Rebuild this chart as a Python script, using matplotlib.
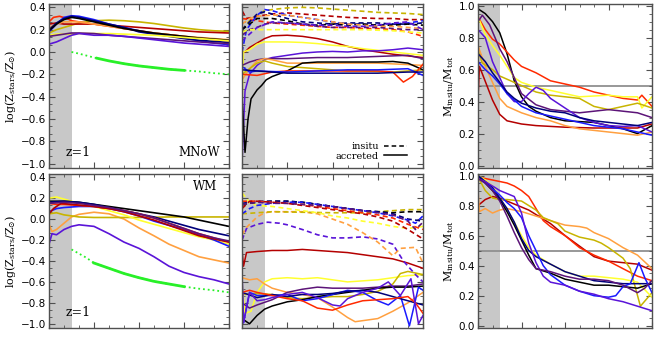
import numpy as np
import matplotlib
matplotlib.use('Agg')
import matplotlib.pyplot as plt
from matplotlib.ticker import MultipleLocator, FuncFormatter
from matplotlib.lines import Line2D

# colours of the simulated galaxies
col = {'black': '#000000', 'navy': '#00007a', 'blue': '#1a1aff', 'bviolet': '#5a14d8',
       'purple': '#5c1478', 'dred': '#b40000', 'red': '#ff2a00', 'orange': '#ffa040',
       'yellow': '#ffff30', 'olive': '#c8b400'}
green = '#28f028'

# ---- top left: log(Z_stars/Z_sun), MNoW ----
tl = {
    'olive': [(0, .17), (.5, .2), (1, .22), (1.5, .24), (2, .26), (3, .28), (4, .285), (5, .28), (6, .27), (7, .255), (8, .235), (9, .215), (10, .2), (11, .19), (12, .185)],
    'dred': [(0, .25), (.5, .26), (1, .25), (1.5, .25), (2, .25), (3, .25), (4, .24), (5, .23), (6, .22), (7, .21), (8, .2), (9, .19), (10, .18), (11, .175), (12, .17)],
    'red': [(0, .27), (.3, .31), (.7, .32), (1.2, .3), (1.5, .28), (2, .27), (3, .25), (4, .23), (5, .21), (6, .19), (7, .17), (8, .155), (9, .14), (10, .125), (11, .11), (12, .1)],
    'orange': [(0, .22), (.5, .25), (1, .27), (2, .27), (3, .25), (4, .23), (5, .21), (6, .19), (7, .17), (8, .155), (9, .14), (10, .13), (11, .12), (12, .11)],
    'blue': [(0, .18), (.5, .25), (1, .31), (1.5, .325), (2, .32), (3, .29), (4, .25), (5, .22), (6, .19), (7, .165), (8, .145), (9, .125), (10, .1), (11, .08), (12, .065)],
    'navy': [(0, .2), (.5, .26), (1, .3), (1.5, .32), (2, .31), (3, .28), (4, .25), (5, .22), (6, .18), (7, .16), (8, .14), (9, .12), (10, .105), (11, .095), (12, .085)],
    'black': [(0, .19), (.5, .25), (1, .29), (1.5, .31), (2, .3), (3, .27), (4, .24), (5, .21), (6, .19), (7, .17), (8, .155), (9, .14), (10, .125), (11, .115), (12, .105)],
    'yellow': [(0, .15), (.5, .16), (1.5, .16), (2, .165), (3, .165), (4, .165), (5, .16), (6, .155), (7, .15), (8, .14), (9, .13), (10, .12), (11, .11), (12, .1)],
    'purple': [(0, .14), (.5, .15), (1.5, .17), (2, .17), (3, .165), (4, .15), (5, .14), (6, .13), (7, .12), (8, .11), (9, .1), (10, .09), (11, .08), (12, .075)],
    'bviolet': [(0, .07), (.5, .09), (1, .12), (1.5, .15), (2, .165), (3, .15), (4, .15), (5, .14), (6, .125), (7, .11), (8, .095), (9, .08), (10, .07), (11, .06), (12, .05)],
}
tl_green = [(1.5, 0.0), (2, -.015), (3, -.05), (4, -.08), (5, -.105), (6, -.125), (7, -.14), (8, -.155), (9, -.165), (10, -.175), (11, -.19), (12, -.2)]

# ---- bottom left: log(Z_stars/Z_sun), WM ----
bl = {
    'bviolet': [(0, -.24), (.2, -.14), (.5, -.15), (1, -.1), (1.5, -.07), (2, -.055), (3, -.07), (4, -.14), (5, -.22), (6, -.28), (7, -.36), (8, -.45), (9, -.51), (10, -.55), (11, -.58), (12, -.62)],
    'orange': [(0, -.05), (.2, -.12), (.5, -.1), (1, -.04), (1.5, .02), (2, .045), (3, .065), (4, .05), (5, 0), (6, -.085), (7, -.16), (8, -.24), (9, -.3), (10, -.36), (11, -.39), (12, -.42)],
    'olive': [(0, .05), (.5, .06), (1, .04), (1.5, .03), (2, .02), (3, .015), (4, .015), (6, .015), (8, .02), (10, .02), (12, .02)],
    'yellow': [(0, .2), (.5, .21), (1, .19), (1.5, .17), (2, .15), (3, .12), (4, .08), (5, .04), (6, -.01), (7, -.05), (8, -.09), (9, -.13), (10, -.17), (11, -.2), (12, -.24)],
    'black': [(0, .17), (1, .17), (2, .16), (3, .14), (4, .12), (5, .1), (6, .08), (7, .06), (8, .04), (9, .02), (10, -.01), (11, -.04), (12, -.07)],
    'navy': [(0, .16), (1, .17), (2, .16), (3, .14), (4, .11), (5, .08), (6, .05), (7, .02), (8, -.02), (9, -.06), (10, -.1), (11, -.13), (12, -.16)],
    'blue': [(0, .07), (.5, .1), (1, .11), (2, .12), (3, .12), (4, .1), (5, .07), (6, .03), (7, -.02), (8, -.06), (9, -.1), (10, -.15), (11, -.2), (12, -.26)],
    'red': [(0, .15), (.5, .14), (1, .14), (2, .13), (3, .12), (4, .1), (5, .08), (6, .05), (7, .01), (8, -.04), (9, -.09), (10, -.14), (11, -.18), (12, -.22)],
    'dred': [(0, .05), (.3, .1), (.8, .15), (1.5, .14), (3, .12), (4, .1), (5, .07), (6, .03), (7, -.01), (8, -.06), (9, -.11), (10, -.16), (11, -.19), (12, -.22)],
    'purple': [(0, .15), (1, .16), (2, .15), (3, .13), (4, .11), (5, .08), (6, .05), (7, .01), (8, -.04), (9, -.09), (10, -.14), (11, -.18), (12, -.21)],
}
bl_green = [(1.5, -.29), (2, -.33), (2.5, -.37), (3, -.42), (4, -.47), (5, -.52), (6, -.56), (7, -.595), (8, -.62), (9, -.645), (10, -.665), (11, -.68), (12, -.7)]

# ---- top middle: insitu (dashed) and accreted (solid) ----
tm_ins = {
    'olive': [(0, .2), (.5, .28), (1, .33), (1.5, .37), (2, .38), (3, .395), (4, .4), (5, .395), (6, .385), (7, .375), (8, .365), (9, .355), (10, .35), (11, .345), (12, .335)],
    'dred': [(0, .37), (.3, .3), (1, .32), (2, .34), (3, .35), (4, .34), (5, .33), (6, .32), (7, .31), (8, .305), (9, .3), (10, .3), (11, .29), (12, .29)],
    'red': [(0, .3), (1, .28), (2, .26), (3, .25), (4, .24), (5, .23), (6, .22), (7, .22), (8, .21), (9, .21), (10, .2), (11, .18), (12, .14)],
    'blue': [(0, 0), (.3, .2), (1, .33), (1.5, .38), (2, .37), (3, .33), (4, .31), (5, .29), (6, .27), (7, .25), (8, .25), (9, .24), (10, .25), (11, .26), (12, .28)],
    'navy': [(0, .2), (1, .34), (1.5, .36), (2, .34), (3, .3), (4, .27), (5, .26), (6, .25), (7, .26), (8, .26), (9, .26), (10, .25), (11, .25), (12, .26)],
    'black': [(0, .2), (1, .3), (2, .3), (3, .28), (4, .25), (5, .24), (6, .25), (7, .24), (8, .25), (9, .24), (10, .24), (11, .25), (12, .24)],
    'orange': [(0, .25), (.5, .3), (1, .32), (2, .33), (3, .33), (4, .31), (5, .29), (6, .27), (7, .25), (8, .24), (9, .23), (10, .23), (11, .22), (12, .21)],
    'purple': [(0, .15), (.5, .2), (1, .22), (1.5, .25), (2, .26), (3, .26), (4, .25), (5, .23), (6, .22), (7, .22), (8, .22), (9, .22), (10, .21), (11, .2), (12, .2)],
    'bviolet': [(0, .1), (1, .22), (2, .27), (3, .26), (4, .25), (5, .24), (6, .24), (7, .23), (8, .23), (9, .24), (10, .26), (11, .27), (12, .2)],
    'yellow': [(0, .18), (.5, .2), (1, .2), (2, .2), (4, .2), (6, .2), (8, .2), (10, .19), (12, .17)],
}
tm_acc = {
    'dred': [(0, 0), (.2, 0), (.5, .04), (1, .08), (1.5, .12), (2, .145), (3, .15), (4, .14), (5, .12), (6, .09), (7, .05), (8, .02), (9, 0), (10, -.02), (11, -.035), (12, -.05)],
    'yellow': [(0, -.5), (.1, 0), (.5, .02), (1, .07), (1.5, .09), (2, .09), (3, .09), (4, .085), (5, .075), (6, .06), (7, .05), (8, .03), (9, .015), (10, 0), (11, -.015), (12, -.03)],
    'bviolet': [(0, -1.0), (.2, -.35), (.5, -.2), (1, -.12), (1.5, -.07), (2, -.05), (3, -.03), (4, -.01), (5, 0), (6, .005), (7, 0), (8, .01), (9, .01), (10, .02), (11, .035), (12, .02)],
    'purple': [(0, -.12), (.5, -.09), (1, -.07), (1.5, -.06), (3, -.06), (5, -.05), (7, -.05), (9, -.04), (10, -.035), (11, -.03), (12, -.06)],
    'orange': [(0, -.25), (.5, -.15), (1, -.08), (1.5, -.06), (2, -.07), (3, -.1), (5, -.1), (7, -.1), (9, -.1), (10.5, -.11), (12, -.12)],
    'olive': [(0, -.2), (.5, -.15), (1, -.1), (1.5, -.08), (2, -.1), (3, -.13), (4, -.14), (5, -.15), (6, -.16), (7, -.17), (8, -.17), (9, -.175), (10, -.18), (11, -.17), (12, -.16)],
    'black': [(0, -.4), (.2, -.9), (.4, -.6), (.6, -.42), (1, -.34), (1.3, -.3), (1.6, -.25), (2, -.22), (3, -.17), (4, -.1), (5, -.09), (7, -.09), (9, -.09), (10, -.085), (11, -.1), (12, -.16)],
    'red': [(0, -.2), (1, -.21), (2, -.18), (3, -.17), (5, -.17), (7, -.17), (9, -.17), (10, -.18), (10.7, -.27), (11.3, -.22), (12, -.11)],
    'blue': [(0, -.13), (.5, -.18), (1, -.17), (3, -.18), (5, -.17), (7, -.16), (9, -.16), (11, -.15), (12, -.21)],
    'navy': [(0, -.16), (1, -.17), (3, -.19), (5, -.19), (7, -.19), (9, -.19), (11, -.18), (12, -.18)],
}

# ---- bottom middle ----
bm_ins = {
    'bviolet': [(0, -.2), (.3, -.09), (1, -.05), (1.7, -.03), (2.5, -.04), (3, -.055), (4, -.1), (5, -.15), (6, -.18), (7, -.18), (8, -.17), (9, -.19), (10, -.24), (10.7, -.4), (11.5, -.53), (12, -.6)],
    'orange': [(0, -.15), (.3, -.08), (1, .02), (1.5, .06), (2, .07), (3, .07), (4, .07), (5, .05), (6, 0), (7, -.05), (8, -.13), (9, -.22), (10, -.35), (10.5, -.28), (11.5, -.27), (12, -.42)],
    'olive': [(0, .05), (1, .06), (2, .07), (4, .065), (6, .06), (8, .06), (9, .07), (10, .08), (11, .09), (12, .09)],
    'yellow': [(0, .25), (.5, .16), (1, .13), (2, .12), (3, .1), (4, .08), (5, .06), (6, .03), (7, .01), (8, -.02), (9, -.04), (10, -.07), (11, -.09), (12, -.07)],
    'black': [(0, .14), (1, .16), (2, .17), (3, .17), (4, .16), (5, .14), (6, .12), (7, .1), (8, .08), (9, .07), (10, .06), (11, .07), (12, .07)],
    'navy': [(0, .15), (1, .17), (2, .17), (3, .17), (4, .16), (5, .14), (6, .12), (7, .1), (8, .08), (9, .07), (10, .05), (11, 0), (12, -.02)],
    'blue': [(0, .05), (.5, .1), (1, .13), (2, .15), (3, .16), (4, .16), (5, .14), (6, .12), (7, .1), (8, .08), (9, .06), (10, .03), (11, -.01), (11.5, -.04), (12, .03)],
    'red': [(0, .17), (1, .17), (2, .16), (3, .15), (4, .14), (5, .12), (6, .1), (7, .08), (8, .06), (9, .04), (10, .01), (11, -.05), (12, -.1)],
    'dred': [(0, .1), (.5, .17), (1, .17), (2, .16), (3, .15), (4, .13), (5, .11), (6, .09), (7, .07), (8, .05), (9, .02), (10, -.02), (11, -.1), (12, -.19)],
    'purple': [(0, .14), (1, .16), (2, .15), (3, .15), (4, .14), (5, .13), (6, .12), (7, .1), (8, .08), (9, .06), (10, .04), (11, -.02), (11.5, -.1), (12, -.03)],
}
bm_acc = {
    'dred': [(0, -.3), (.1, -.45), (.3, -.32), (1, -.31), (2, -.3), (3, -.3), (4, -.29), (5, -.3), (6, -.31), (7, -.32), (8, -.34), (9, -.36), (10, -.38), (11, -.42), (12, -.47)],
    'yellow': [(0, -.6), (.2, -.9), (.6, -.88), (1, -.7), (1.5, -.6), (2, -.57), (3, -.56), (4, -.57), (5, -.56), (6, -.58), (7, -.6), (8, -.59), (9, -.58), (10, -.56), (11, -.54), (12, -.53)],
    'olive': [(0, -.72), (1, -.71), (2, -.72), (3, -.75), (4, -.76), (5, -.75), (6, -.74), (7, -.74), (8, -.72), (9, -.69), (10, -.62), (10.5, -.52), (11, -.5), (12, -.53)],
    'orange': [(0, -.56), (.5, -.58), (1, -.57), (1.5, -.62), (2, -.66), (3, -.7), (4, -.72), (5, -.75), (6, -.84), (7, -.94), (7.5, -.98), (8, -.97), (9, -.95), (10, -.88), (11, -.8), (12, -.7)],
    'purple': [(0, -.8), (.5, -.85), (1, -.82), (2, -.77), (3, -.7), (4, -.67), (5, -.65), (6, -.66), (7, -.66), (8, -.66), (9, -.65), (10, -.64), (11, -.64), (12, -.62)],
    'black': [(0, -.95), (.5, -1.0), (1, -.92), (1.5, -.86), (2, -.83), (3, -.79), (4, -.77), (5, -.74), (6, -.72), (7, -.7), (8, -.68), (9, -.66), (10, -.65), (11, -.65), (12, -.64)],
    'blue': [(0, -.54), (.1, -.99), (.5, -.7), (1, -.73), (2, -.73), (3, -.72), (4, -.78), (5, -.76), (6, -.72), (7, -.68), (8, -.7), (9, -.78), (9.7, -.82), (10.5, -.73), (11.1, -1.02), (11.7, -.65), (12, -.68)],
    'navy': [(0, -.7), (1, -.75), (2, -.72), (3, -.74), (4, -.72), (5, -.72), (6, -.71), (7, -.69), (8, -.68), (9, -.7), (10, -.74), (11, -.78), (12, -.82)],
    'red': [(0, -.7), (.5, -.68), (1, -.7), (2, -.73), (3, -.76), (4, -.78), (5, -.85), (6, -.87), (7, -.82), (8, -.78), (9, -.77), (10, -.76), (11, -.74), (11.5, -.8), (12, -.9)],
    'bviolet': [(0, -.5), (.1, -.99), (.5, -.7), (1, -.78), (1.5, -.77), (2, -.75), (3, -.72), (4, -.7), (5, -.75), (6, -.82), (6.5, -.83), (7, -.76), (8, -.7), (9, -.66), (9.7, -.6), (10.5, -.73), (11.2, -.57), (11.7, -1.0), (12, -.92)],
}

# ---- right: M_insitu/M_tot ----
tr = {
    'black': [(0, .98), (.5, .95), (1, .9), (1.5, .83), (2, .7), (2.5, .53), (3, .43), (3.5, .37), (4, .34), (5, .3), (6, .28), (7, .275), (8, .27), (9, .25), (10, .23), (11, .2), (12, .25)],
    'red': [(0, .93), (.5, .85), (1, .79), (1.5, .76), (2, .71), (2.5, .66), (3, .62), (4, .58), (5, .53), (6, .51), (7, .49), (8, .46), (9, .44), (10, .42), (11, .41), (11.3, .44), (12, .37)],
    'dred': [(0, .42), (.1, .62), (.4, .55), (1, .41), (1.5, .32), (2, .28), (3, .26), (4, .25), (5, .245), (6, .24), (8, .235), (10, .235), (11, .235), (12, .26)],
    'orange': [(0, .75), (.5, .62), (1, .52), (1.5, .42), (2, .37), (3, .33), (4, .3), (5, .28), (6, .25), (7, .23), (8, .22), (9, .21), (10, .2), (11, .19), (12, .21)],
    'yellow': [(0, .93), (.5, .82), (1, .75), (1.5, .69), (2, .62), (2.5, .55), (3, .52), (4, .49), (5, .47), (6, .45), (7, .43), (8, .435), (9, .44), (10, .43), (11, .43), (11.3, .36), (12, .43)],
    'olive': [(0, .72), (.3, .64), (1, .6), (1.5, .56), (2, .54), (3, .5), (4, .46), (5, .44), (6, .43), (7, .42), (8, .37), (9, .35), (10, .37), (11, .39), (12, .36)],
    'purple': [(0, .9), (.3, .94), (.8, .88), (1.5, .73), (2, .65), (2.5, .55), (3, .45), (4, .38), (5, .35), (6, .34), (7, .33), (8, .34), (9, .35), (10, .34), (11, .33), (12, .3)],
    'bviolet': [(0, .85), (.5, .8), (1, .65), (1.5, .55), (2, .45), (2.5, .4), (3, .4), (3.5, .45), (4, .49), (4.5, .47), (5, .42), (6, .36), (7, .3), (8, .27), (9, .25), (10, .245), (11, .25), (12, .21)],
    'blue': [(0, .65), (.5, .6), (1, .56), (1.5, .51), (2, .45), (2.5, .41), (3, .37), (4, .33), (5, .31), (6, .29), (7, .27), (8, .25), (9, .24), (10, .23), (11, .21), (12, .19)],
    'navy': [(0, .7), (.5, .65), (1, .58), (1.5, .52), (2, .46), (2.5, .42), (3, .39), (4, .36), (5, .34), (6, .33), (7, .3), (8, .28), (9, .27), (10, .26), (11, .25), (12, .27)],
}
br = {
    'dred': [(0, .8), (.5, .84), (1, .86), (1.5, .85), (2, .83), (2.5, .81), (3, .79), (3.5, .77), (4, .74), (5, .68), (6, .6), (7, .53), (8, .46), (9, .43), (10, .42), (11, .41), (12, .37)],
    'red': [(0, .99), (1, .97), (2, .95), (2.5, .93), (3, .9), (3.5, .86), (4, .78), (4.5, .7), (5, .66), (6, .6), (7, .52), (8, .47), (9, .43), (10, .38), (11, .33), (12, .3)],
    'orange': [(0, .9), (.1, .76), (.5, .78), (1, .75), (1.5, .77), (2, .78), (3, .76), (4, .73), (5, .7), (6, .67), (7, .66), (7.5, .65), (8, .62), (9, .58), (10, .52), (11, .47), (12, .38)],
    'olive': [(0, .99), (.5, .9), (1, .85), (1.5, .84), (2, .84), (3, .83), (3.5, .8), (4, .77), (4.5, .72), (5, .7), (5.5, .68), (6, .63), (7, .59), (8, .57), (8.5, .55), (9, .52), (10, .45), (10.5, .38), (11.2, .13), (12, .22)],
    'yellow': [(0, 1.0), (.5, .97), (1, .93), (1.5, .85), (2, .77), (2.5, .69), (3, .6), (3.5, .52), (4, .47), (5, .41), (6, .36), (7, .33), (8, .33), (9, .32), (10, .31), (11, .29), (12, .19)],
    'black': [(0, 1.0), (.5, .95), (1, .9), (1.5, .84), (2, .76), (2.5, .67), (3, .57), (3.5, .47), (4, .38), (5, .35), (6, .31), (7, .29), (7.5, .28), (8, .27), (9, .27), (10, .26), (11, .25), (12, .28)],
    'navy': [(0, 1.0), (.5, .96), (1, .92), (1.5, .85), (2, .78), (2.5, .69), (3, .58), (3.5, .5), (4, .46), (5, .41), (6, .36), (7, .33), (8, .3), (9, .29), (10, .28), (11, .28), (12, .28)],
    'blue': [(0, .98), (.5, .95), (1, .91), (1.5, .87), (2, .82), (2.5, .78), (3, .72), (3.5, .6), (4, .5), (4.5, .4), (5, .34), (6, .27), (7, .23), (8, .2), (9, .19), (9.5, .2), (10, .26), (10.5, .28), (11.1, .42), (11.5, .32), (12, .22)],
    'bviolet': [(0, .98), (.5, .96), (1, .93), (1.5, .9), (2, .88), (2.5, .86), (3, .75), (3.5, .55), (4, .42), (4.5, .33), (5, .29), (6, .27), (7, .23), (8, .21), (9, .18), (10, .16), (11, .13), (12, .1)],
    'purple': [(0, .98), (.5, .95), (1, .9), (1.5, .83), (2, .73), (2.5, .62), (3, .52), (3.5, .44), (4, .38), (5, .36), (6, .33), (7, .31), (8, .31), (9, .3), (10, .27), (11, .22), (11.5, .25), (12, .3)],
}

zcut = 1.5      # end of grey band (z=1)
xmax = 12.0
frame = '#505050'
plt.rcParams['mathtext.fontset'] = 'dejavuserif'


def xy(pts):
    a = np.array(pts)
    return a[:, 0], a[:, 1]


def fmt(v, pos):
    s = '%.1f' % (round(v, 3) + 0.0)
    return s.replace('-', '\u2212')


def setup(ax, ylim, major, minor, labels=True):
    ax.axvspan(0, zcut, color='#c8c8c8', lw=0, zorder=0)
    ax.set_xlim(0, xmax)
    ax.set_ylim(*ylim)
    ax.xaxis.set_major_locator(MultipleLocator(3))
    ax.xaxis.set_minor_locator(MultipleLocator(1))
    ax.yaxis.set_major_locator(MultipleLocator(major))
    ax.yaxis.set_minor_locator(MultipleLocator(minor))
    ax.tick_params(which='both', direction='in', top=True, right=True, color=frame,
                   labelbottom=False, labelleft=labels, labelsize=7.5, pad=2)
    ax.tick_params(which='major', length=4)
    ax.tick_params(which='minor', length=2)
    for s in ax.spines.values():
        s.set_color(frame)
        s.set_linewidth(1.0)
    if labels:
        ax.yaxis.set_major_formatter(FuncFormatter(fmt))


def draw_green(ax, pts, s0, s1):
    x, y = xy(pts)
    ax.plot(x, y, color=green, ls=':', lw=1.3)
    xs = np.linspace(s0, s1, 30)
    ax.plot(xs, np.interp(xs, x, y), color=green, lw=2.0)


fig = plt.figure(figsize=(6.64, 3.6), dpi=100)
W, H = 664.0, 360.0
cols = [(49, 229), (242, 423), (478, 652)]
rows = [(4, 168), (174, 328)]
axs = [[fig.add_axes([c[0] / W, 1 - r[1] / H, (c[1] - c[0]) / W, (r[1] - r[0]) / H])
        for c in cols] for r in rows]

zlim = (-1.04, 0.43)
flim = (-0.015, 1.01)

# left column
for ax, data, gpts, seg in [(axs[0][0], tl, tl_green, (3.2, 9)), (axs[1][0], bl, bl_green, (3.0, 9))]:
    setup(ax, zlim, 0.2, 0.2 / 3)
    for k, pts in data.items():
        x, y = xy(pts)
        ax.plot(x, y, color=col[k], lw=1.2)
    draw_green(ax, gpts, *seg)
    ax.set_ylabel(r'log(Z$_{\rm stars}$/Z$_{\odot}$)', family='DejaVu Serif', fontsize=8, labelpad=2)
axs[0][0].text(1.1, -0.93, 'z=1', family='DejaVu Serif', fontsize=9)
axs[0][0].text(8.6, -0.93, 'MNoW', family='DejaVu Serif', fontsize=8.5)
axs[1][0].text(1.1, -0.93, 'z=1', family='DejaVu Serif', fontsize=9)
axs[1][0].text(9.6, 0.28, 'WM', family='DejaVu Serif', fontsize=8.5)

# middle column
for ax, ins, acc in [(axs[0][1], tm_ins, tm_acc), (axs[1][1], bm_ins, bm_acc)]:
    setup(ax, zlim, 0.2, 0.2 / 3, labels=False)
    for k, pts in acc.items():
        x, y = xy(pts)
        ax.plot(x, y, color=col[k], lw=1.1)
    for k, pts in ins.items():
        x, y = xy(pts)
        ax.plot(x, y, color=col[k], lw=1.2, dashes=(3, 2))
hd = [Line2D([], [], color='k', lw=1.1, dashes=(3, 2)), Line2D([], [], color='k', lw=1.1)]
axs[0][1].legend(hd, ['insitu', 'accreted'], loc='lower right', bbox_to_anchor=(0.96, -0.01),
                 frameon=False, markerfirst=False, handlelength=2.4, handletextpad=0.5,
                 labelspacing=0.1, prop={'family': 'DejaVu Serif', 'size': 7})

# right column
for ax, data in [(axs[0][2], tr), (axs[1][2], br)]:
    setup(ax, flim, 0.2, 0.05)
    ax.axhline(0.5, color='#909090', lw=1.3, zorder=1)
    for k, pts in data.items():
        x, y = xy(pts)
        ax.plot(x, y, color=col[k], lw=1.1)
    ax.set_ylabel(r'M$_{\rm insitu}$/M$_{\rm tot}$', family='DejaVu Serif', fontsize=8, labelpad=2)

fig.savefig('out.png', dpi=100)
